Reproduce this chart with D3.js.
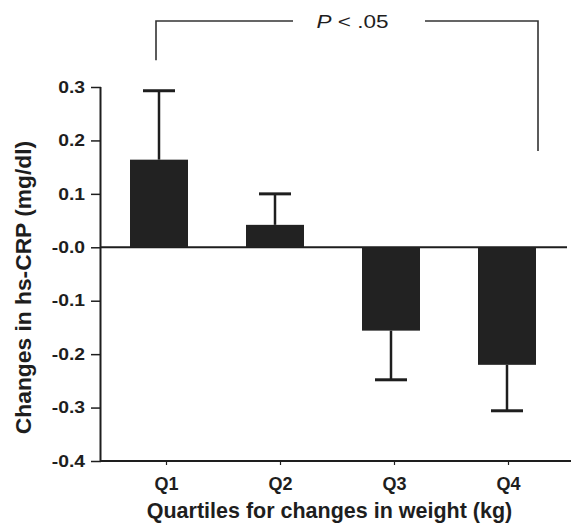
<!DOCTYPE html>
<html>
<head>
<meta charset="utf-8">
<script src="https://cdn.jsdelivr.net/npm/d3@7"></script>
<style>
  html, body { margin: 0; padding: 0; background: #fff; }
  svg { display: block; }
</style>
</head>
<body>
<svg id="chart" width="571" height="528"></svg>
<script>
const categories = ["Q1", "Q2", "Q3", "Q4"];
const means = [0.164, 0.042, -0.156, -0.220];
const errorEnds = [0.293, 0.100, -0.248, -0.306];
const yTicks = [0.3, 0.2, 0.1, 0.0, -0.1, -0.2, -0.3, -0.4];
const yTickLabels = ["0.3", "0.2", "0.1", "-0.0", "-0.1", "-0.2", "-0.3", "-0.4"];
const yTitle = "Changes in hs-CRP (mg/dl)";
const xTitle = "Quartiles for changes in weight (kg)";
const sigFrom = "Q1", sigTo = "Q4", sigLabel = ["P", " < .05"];
const sigLeftEnd = 0.35, sigRightEnd = 0.18;

const svg = d3.select("#chart");
const ink = "#1e1e1e";
const font = "'Liberation Sans', Arial, Helvetica, sans-serif";

// stretch a text element along its direction by a factor (scan is slightly wide)
function stretch(sel, f) {
  sel.each(function () {
    const w = this.getComputedTextLength();
    d3.select(this).attr("textLength", w * f).attr("lengthAdjust", "spacingAndGlyphs");
  });
}

const x = d3.scaleBand().domain(categories).range([101, 565]).paddingInner(0.5).paddingOuter(0.25);
const xTick = d3.scalePoint().domain(categories).range([166, 508]);
const y = d3.scaleLinear().domain([-0.4, 0.3]).range([461, 87]);

// Y axis
const yAxis = d3.axisLeft(y).tickValues(yTicks).tickSize(10).tickPadding(6)
  .tickFormat((d, i) => yTickLabels[i]);
const gy = svg.append("g").attr("transform", `translate(${x.range()[0]},0)`).call(yAxis);
gy.select(".domain").attr("d", `M-0.5,${y(0.3)}V${y(-0.4)}`).attr("stroke", ink).attr("stroke-width", 2);
gy.selectAll(".tick line").attr("stroke", ink).attr("stroke-width", 1.5);
gy.selectAll(".tick text").attr("fill", ink).attr("font-family", font)
  .attr("font-size", 16.5).attr("font-weight", "bold").call(stretch, 1.17);

// X axis at bottom
const xAxis = d3.axisBottom(xTick).tickSize(4).tickPadding(12);
const gx = svg.append("g").attr("transform", `translate(0,${y(-0.4)})`).call(xAxis);
gx.select(".domain").attr("d", `M${x.range()[0] - 1},0H571`).attr("stroke", ink).attr("stroke-width", 2);
gx.selectAll(".tick line").attr("stroke", ink).attr("stroke-width", 1.2);
gx.selectAll(".tick text").attr("fill", ink).attr("font-family", font)
  .attr("font-size", 18).attr("font-weight", "bold");

// zero line
svg.append("line")
  .attr("x1", x.range()[0]).attr("x2", 567)
  .attr("y1", y(0)).attr("y2", y(0))
  .attr("stroke", ink).attr("stroke-width", 2);

// error bars
const capHalf = 16;
const eb = svg.append("g").attr("stroke", ink);
categories.forEach((c, i) => {
  const cx = x(c) + x.bandwidth() / 2;
  eb.append("line").attr("x1", cx).attr("x2", cx)
    .attr("y1", y(means[i])).attr("y2", y(errorEnds[i])).attr("stroke-width", 2.5);
  eb.append("line").attr("x1", cx - capHalf).attr("x2", cx + capHalf)
    .attr("y1", y(errorEnds[i])).attr("y2", y(errorEnds[i])).attr("stroke-width", 3);
});

// bars
svg.append("g").selectAll("rect").data(categories).join("rect")
  .attr("x", d => x(d))
  .attr("width", x.bandwidth())
  .attr("y", (d, i) => y(Math.max(0, means[i])))
  .attr("height", (d, i) => Math.abs(y(means[i]) - y(0)))
  .attr("fill", "#222");

// significance bracket
const bracketY = 21;
const lx = x(sigFrom) + x.bandwidth() / 2 - 3;
const rx = x(sigTo) + x.bandwidth() / 2 + 31;
const br = svg.append("g").attr("stroke", "#333").attr("fill", "none").attr("stroke-width", 1.6);
br.append("path").attr("d", `M${lx},${y(sigLeftEnd)}V${bracketY}H293`);
br.append("path").attr("d", `M425,${bracketY}H${rx}V${y(sigRightEnd)}`);
const pt = svg.append("text").attr("x", 352.5).attr("y", 28).attr("text-anchor", "middle")
  .attr("font-family", font).attr("font-size", 18).attr("fill", ink);
pt.append("tspan").attr("font-style", "italic").text(sigLabel[0]);
pt.append("tspan").text(sigLabel[1]);
stretch(pt, 1.25);

// axis titles
const yt = svg.append("text")
  .attr("transform", `translate(31,287.5) rotate(-90)`)
  .attr("text-anchor", "middle").attr("font-family", font)
  .attr("font-size", 21.5).attr("font-weight", "bold").attr("fill", ink)
  .text(yTitle);
stretch(yt, 1.06);
svg.append("text")
  .attr("x", 329.5).attr("y", 517.5).attr("text-anchor", "middle")
  .attr("font-family", font).attr("font-size", 21.5).attr("font-weight", "bold").attr("fill", ink)
  .text(xTitle);
</script>
</body>
</html>
